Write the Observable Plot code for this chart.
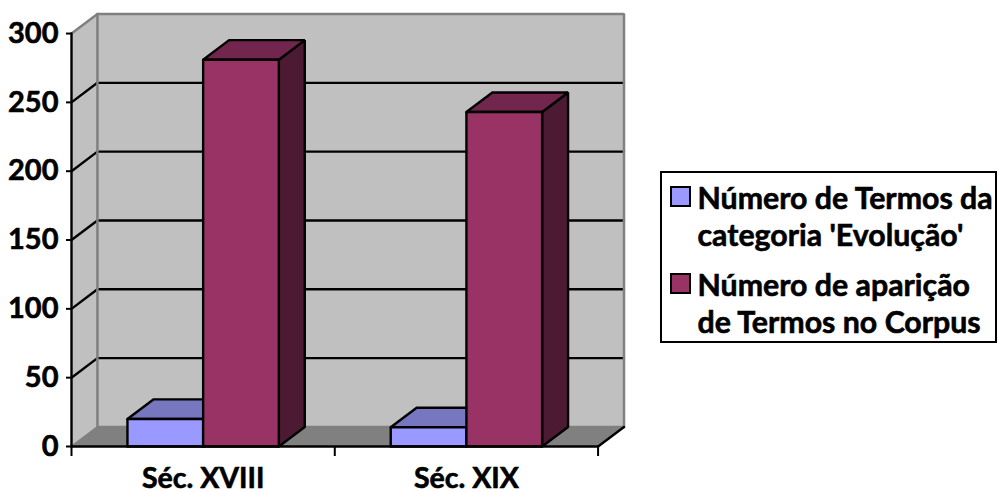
<!DOCTYPE html>
<html>
<head>
<meta charset="utf-8">
<script src="https://cdn.jsdelivr.net/npm/d3@7"></script>
<script src="https://cdn.jsdelivr.net/npm/@observablehq/plot@0.6"></script>
<style>
  html, body { margin: 0; padding: 0; background: #fff; }
  body { width: 997px; height: 492px; overflow: hidden; position: relative; font-family: Lato, sans-serif; font-weight: 700; color: #000; }
  #chart svg { display: block; }
  #chart svg g[aria-label*="axis"] text { stroke: #000; stroke-width: 0.6px; }
  #legend { position: absolute; left: 660px; top: 171px; width: 337px; height: 172px; box-sizing: border-box; border: 2px solid #000; background: #fff; }
  .entry { position: absolute; left: 35.5px; font-size: 30.3px; line-height: 37px; white-space: nowrap; -webkit-text-stroke: 0.6px #000; }
  .swatch { position: absolute; left: 8px; width: 21px; height: 21px; box-sizing: border-box; border: 2px solid #000; }
</style>
</head>
<body>
<div id="chart"></div>
<div id="legend"></div>
<script>
const categories = ["Séc. XVIII", "Séc. XIX"];
const seriesNames = [["Número de Termos da", "categoria 'Evolução'"], ["Número de aparição", "de Termos no Corpus"]];
const termos = [20, 14];
const aparicoes = [281, 243];
const yTicks = [0, 50, 100, 150, 200, 250, 300];
const gridValues = [50, 100, 150, 200, 250];

const frontFill = ["#9999FF", "#993366"];
const topFill = ["#7777C0", "#73264D"];
const sideFill = ["#60609A", "#4D1A33"];

// depth of the oblique projection, in data units
const depthX = 0.0985;
const depthY = 14.2;
const gap = 0.2125;
const barW = 0.2875;
const nCat = categories.length;

const pts = (...p) => p.map(([x, y]) => ({x, y}));
const poly = (p, fill, stroke = "none", strokeWidth = 2.4) =>
  Plot.line(pts(...p, p[0]), {x: "x", y: "y", fill, stroke, strokeWidth, strokeLinejoin: "miter"});
const seg = (p, stroke, strokeWidth = 2.4) =>
  Plot.line(pts(...p), {x: "x", y: "y", stroke, strokeWidth, strokeLinejoin: "miter"});

function bar(x0, v, s) {
  const x1 = x0 + barW;
  return [
    poly([[x1, 0], [x1 + depthX, depthY], [x1 + depthX, v + depthY], [x1, v]], sideFill[s], "#000"),
    poly([[x0, v], [x1, v], [x1 + depthX, v + depthY], [x0 + depthX, v + depthY]], topFill[s], "#000"),
    poly([[x0, 0], [x1, 0], [x1, v], [x0, v]], frontFill[s], "#000")
  ];
}

const yTop = yTicks[yTicks.length - 1];
const marks = [
  // walls and floor
  poly([[depthX, depthY], [nCat + depthX, depthY], [nCat + depthX, yTop + depthY], [depthX, yTop + depthY]], "#C0C0C0"),
  poly([[0, 0], [depthX, depthY], [depthX, yTop + depthY], [0, yTop]], "#C0C0C0"),
  poly([[0, 0], [nCat, 0], [nCat + depthX, depthY], [depthX, depthY]], "#808080"),
  // gridlines
  ...gridValues.map(v => seg([[0, v], [depthX, v + depthY], [nCat + depthX, v + depthY]], "#000")),
  // wall edges
  seg([[0, yTop], [depthX, yTop + depthY], [nCat + depthX, yTop + depthY], [nCat + depthX, depthY]], "#808080", 2.5),
  seg([[depthX, yTop + depthY], [depthX, depthY], [nCat + depthX, depthY]], "#808080", 2.5),
  seg([[0, 0], [depthX, depthY]], "#808080", 2),
  seg([[nCat, 0], [nCat + depthX, depthY]], "#000", 2.4),
  // bars
  ...categories.flatMap((c, i) => [
    ...bar(i + gap, termos[i], 0),
    ...bar(i + gap + barW, aparicoes[i], 1)
  ]),
  // axis lines
  seg([[0, 0], [nCat, 0]], "#000", 2.5),
  seg([[0, 0], [0, yTop]], "#000", 2.4),
  Plot.axisY({
    ticks: yTicks, tickSize: 5, tickPadding: 8, tickFormat: d => d, label: null,
    fontSize: 29, fontWeight: 700, fontFamily: "Lato, sans-serif",
    stroke: "#000", strokeWidth: 2, strokeOpacity: 1, fill: "#000"
  }),
  Plot.axisX({
    ticks: d3.range(nCat + 1), tickSize: 10, tickFormat: () => "", label: null,
    stroke: "#000", strokeWidth: 2, strokeOpacity: 1
  }),
  Plot.axisX({
    ticks: categories.map((c, i) => i + 0.5), tickSize: 0, tickPadding: 21,
    tickFormat: d => categories[Math.floor(d)], label: null,
    fontSize: 28.5, fontWeight: 700, fontFamily: "Lato, sans-serif", fill: "#000"
  })
];

const plot = Plot.plot({
  width: 997, height: 492,
  marginLeft: 71, marginRight: 373.5, marginTop: 13.5, marginBottom: 46,
  style: {background: "transparent", overflow: "visible"},
  x: {type: "linear", domain: [0, nCat + depthX]},
  y: {type: "linear", domain: [0, yTop + depthY]},
  marks
});
document.getElementById("chart").append(plot);

const legend = document.getElementById("legend");
const tops = [6, 93];
const swTops = [13, 100];
seriesNames.forEach((lines, s) => {
  const sw = document.createElement("div");
  sw.className = "swatch";
  sw.style.top = swTops[s] + "px";
  sw.style.background = frontFill[s];
  legend.append(sw);
  const e = document.createElement("div");
  e.className = "entry";
  e.style.top = tops[s] + "px";
  e.innerHTML = lines.join("<br>");
  legend.append(e);
});
</script>
</body>
</html>
